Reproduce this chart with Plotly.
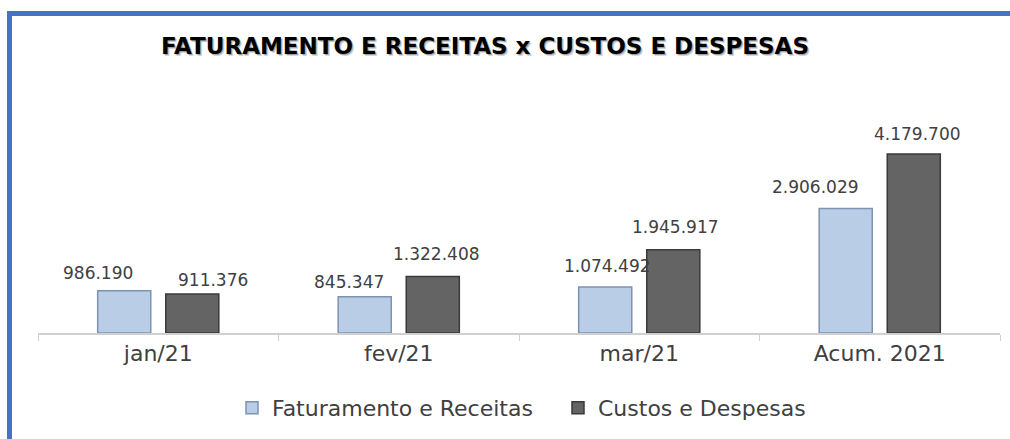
import plotly.graph_objects as go

categories = ["jan/21", "fev/21", "mar/21", "Acum. 2021"]
faturamento = [986190, 845347, 1074492, 2906029]
custos = [911376, 1322408, 1945917, 4179700]
fat_labels = ["986.190", "845.347", "1.074.492", "2.906.029"]
cus_labels = ["911.376", "1.322.408", "1.945.917", "4.179.700"]

title_text = "FATURAMENTO E RECEITAS x CUSTOS E DESPESAS"

W, H = 1010, 439
ML, MR, MT, MB = 38, 10, 119, 106
PW, PH = W - ML - MR, H - MT - MB

def px_x(px):
    return (px - ML) / PW

def px_y(py):
    return (H - MB - py) / PH

FONT = "DejaVu Sans"
TXT = "#404040"
BARGAP, GROUPGAP = 0.434, 0.22

fig = go.Figure()
fig.add_trace(go.Bar(
    name="Faturamento e Receitas", x=categories, y=faturamento, legend="legend",
    marker=dict(color="#b9cde6", line=dict(color="#7d93b2", width=1.5)),
))
fig.add_trace(go.Bar(
    name="Custos e Despesas", x=categories, y=custos, legend="legend2",
    marker=dict(color="#646464", line=dict(color="#3a3a3a", width=1.5)),
))

# data labels (manual placement like the original)
slot = PW / len(categories) * (1 - BARGAP) / 2
fat_dx = [-26, -16, 2, -30]
fat_dy = [18, 15, 21, 22]
cus_dx = [21, 4, 2, 4]
cus_dy = [14, 22, 23, 20]
for i, c in enumerate(categories):
    fig.add_annotation(x=c, y=faturamento[i], text=fat_labels[i], showarrow=False,
                       xshift=-slot / 2 + fat_dx[i], yshift=fat_dy[i], yanchor="middle",
                       font=dict(family=FONT, size=17, color=TXT))
    fig.add_annotation(x=c, y=custos[i], text=cus_labels[i], showarrow=False,
                       xshift=slot / 2 + cus_dx[i], yshift=cus_dy[i], yanchor="middle",
                       font=dict(family=FONT, size=17, color=TXT))

# title with soft shadow
for dx, dy, col in [(2, -2, "rgba(0,0,0,0.18)"), (1, -1, "rgba(0,0,0,0.25)"), (0, 0, "#000000")]:
    fig.add_annotation(xref="paper", yref="paper", x=px_x(485), y=px_y(46),
                       text="<b>" + title_text + "</b>", showarrow=False,
                       xshift=dx, yshift=dy, xanchor="center", yanchor="middle",
                       font=dict(family=FONT, size=23, color=col))

# blue frame (top and left)
BLUE = "#4472c4"
fig.add_shape(type="rect", xref="paper", yref="paper", layer="above",
              x0=px_x(7), x1=px_x(1010), y0=px_y(16), y1=px_y(11),
              fillcolor=BLUE, line=dict(width=0))
fig.add_shape(type="rect", xref="paper", yref="paper", layer="above",
              x0=px_x(7), x1=px_x(12), y0=px_y(439), y1=px_y(11),
              fillcolor=BLUE, line=dict(width=0))

leg_common = dict(orientation="h", yanchor="middle", xanchor="left",
                  font=dict(family=FONT, size=22, color=TXT), itemwidth=30,
                  bgcolor="rgba(0,0,0,0)")

fig.update_layout(
    width=W, height=H,
    margin=dict(l=ML, r=MR, t=MT, b=MB),
    paper_bgcolor="white", plot_bgcolor="white",
    barmode="group", bargap=BARGAP, bargroupgap=GROUPGAP,
    showlegend=True,
    legend=dict(x=px_x(272 - 40), y=px_y(408), **leg_common),
    legend2=dict(x=px_x(598 - 40), y=px_y(408), **leg_common),
    xaxis=dict(showline=True, linecolor="#d0d0d0", linewidth=1.5,
               ticks="outside", tickson="boundaries", ticklen=6, tickcolor="#d0d0d0",
               tickfont=dict(family=FONT, size=22, color=TXT), showgrid=False),
    yaxis=dict(range=[0, 5000000], visible=False, showgrid=False, zeroline=False),
)

fig.write_html("out.html", config={"displayModeBar": False},
               post_script="document.body.style.margin='0';")
